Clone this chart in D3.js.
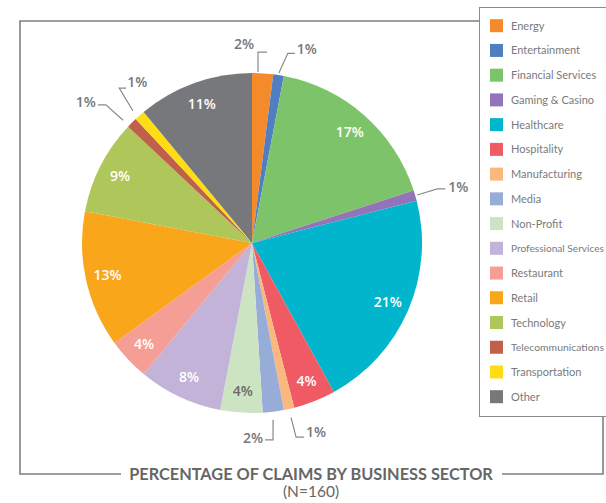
<!DOCTYPE html>
<html>
<head>
<meta charset="utf-8">
<script src="https://cdn.jsdelivr.net/npm/d3@7"></script>
<style>
  body { margin: 0; background: #fff; }
  svg { display: block; }
</style>
</head>
<body>
<div id="chart"></div>
<script>
// sectors, clockwise from 12 o'clock
var sectors = ["Energy", "Entertainment", "Financial Services", "Gaming & Casino", "Healthcare",
    "Hospitality", "Manufacturing", "Media", "Non-Profit", "Professional Services", "Restaurant",
    "Retail", "Technology", "Telecommunications", "Transportation", "Other"];
var shares = [2, 1, 17, 1, 21, 4, 1, 2, 4, 8, 4, 13, 9, 1, 1, 11];
var colors = ["#f58a2b", "#4f7fc1", "#7dc36a", "#9474b8", "#00b5cc", "#ef5a65", "#fbb87e", "#97add8",
    "#cde4c3", "#c3b3d8", "#f59e96", "#faa61a", "#afc65a", "#c0604a", "#ffdd15", "#77787b"];
var title = "PERCENTAGE OF CLAIMS BY BUSINESS SECTOR";
var subtitle = "(N=160)";

// small slices get a leader line instead of an inside label
// angles are offsets (deg) from slice middle, radii in px
var outside = {
    "Energy":             { a0: -1.6, r0: 171, a1: -1.8, r1: 191, dx: 9,   tx: -4, ty: -3, anchor: "end" },
    "Entertainment":      { a0: 0,    r0: 172, a1: 1.7,  r1: 193, dx: 7,   tx: 2,  ty: 1,  anchor: "start" },
    "Gaming & Casino":    { a0: 0,    r0: 172, a1: -0.1, r1: 193, dx: 8,   tx: 3,  ty: 3,  anchor: "start" },
    "Manufacturing":      { a0: 0,    r0: 179, a1: -0.2, r1: 199, dx: 8,   tx: 2,  ty: 0,  anchor: "start" },
    "Media":              { a0: 0.4,  r0: 178, a1: 1.1,  r1: 198, dx: -8,  tx: -2, ty: 3,  anchor: "end" },
    "Telecommunications": { a0: -1.4, r0: 178, a1: -1.6, r1: 201, dx: -8,  tx: -2, ty: 2,  anchor: "end" },
    "Transportation":     { a0: -0.6, r0: 178, a1: 0.8,  r1: 204, dx: 7,   tx: 1,  ty: -1, anchor: "start" }
};
var darkText = ["Non-Profit"];

var width = 606, height = 503;
var cx = 252, cy = 243, radius = 170;

var svg = d3.select("#chart").append("svg")
    .attr("width", width)
    .attr("height", height);

// frame
var frame = svg.append("g")
    .attr("fill", "none")
    .attr("stroke", "#7f7f7f")
    .attr("stroke-width", 1.6);

frame.append("polyline")
    .attr("points", [[479, 21], [20, 21], [20, 474], [121, 474]].join(" "));
frame.append("polyline")
    .attr("points", [[502, 474], [603, 474], [603, 417]].join(" "));

var pie = d3.pie().sort(null).value(d => d);
var arcs = pie(shares);

var arc = d3.arc().innerRadius(0).outerRadius(radius);
var labelArc = d3.arc().innerRadius(148).outerRadius(148);

var g = svg.append("g").attr("transform", "translate(" + cx + "," + cy + ")");

g.selectAll("path.slice")
    .data(arcs)
    .enter()
    .append("path")
    .attr("class", "slice")
    .attr("d", arc)
    .attr("fill", (d, i) => colors[i]);

// inside labels
g.selectAll("text.inner")
    .data(arcs.filter((d, i) => !outside[sectors[i]]))
    .enter()
    .append("text")
    .attr("class", "inner")
    .attr("transform", d => "translate(" + labelArc.centroid(d) + ")")
    .attr("text-anchor", "middle")
    .attr("dy", "0.35em")
    .attr("font-family", "'Open Sans', sans-serif")
    .attr("font-weight", 600)
    .attr("font-size", 14)
    .attr("fill", d => darkText.indexOf(sectors[d.index]) >= 0 ? "#6a6a6a" : "#fff")
    .text(d => d.data + "%");

// leader lines for small slices
function polar(angDeg, r) {
    var a = angDeg * Math.PI / 180;
    return [r * Math.sin(a), -r * Math.cos(a)];
}

var outs = arcs.filter((d, i) => outside[sectors[i]]);

outs.forEach(d => {
    var cfg = outside[sectors[d.index]];
    var mid = (d.startAngle + d.endAngle) / 2 * 180 / Math.PI;
    var p0 = polar(mid + cfg.a0, cfg.r0);
    var p1 = polar(mid + cfg.a1, cfg.r1);
    var p2 = [p1[0] + cfg.dx, p1[1]];

    g.append("polyline")
        .attr("points", [p0, p1, p2].join(" "))
        .attr("fill", "none")
        .attr("stroke", "#8a8a8a")
        .attr("stroke-width", 1.2);

    var tx = (cfg.anchor == "end" ? Math.min(p1[0], p2[0]) : Math.max(p1[0], p2[0])) + cfg.tx;
    g.append("text")
        .attr("x", tx)
        .attr("y", p1[1] + cfg.ty)
        .attr("text-anchor", cfg.anchor)
        .attr("font-family", "'Open Sans', sans-serif")
        .attr("font-weight", 600)
        .attr("font-size", 14)
        .attr("fill", "#777")
        .text(d.data + "%");
});

// legend
var legend = svg.append("g");
legend.append("rect")
    .attr("x", 479.5)
    .attr("y", 7.5)
    .attr("width", 160)
    .attr("height", 409)
    .attr("fill", "#fff")
    .attr("stroke", "#8a8a8a")
    .attr("stroke-width", 1);

var rowY = d3.scalePoint().domain(sectors).range([25.7, 396.7]);

var items = legend.selectAll("g.item")
    .data(sectors)
    .enter()
    .append("g")
    .attr("class", "item")
    .attr("transform", d => "translate(490," + rowY(d) + ")");

items.append("rect")
    .attr("x", 0)
    .attr("y", -6.5)
    .attr("width", 13)
    .attr("height", 13)
    .attr("fill", (d, i) => colors[i]);

// shrink long names so they stay inside the page
items.append("text")
    .attr("x", 21)
    .attr("y", 4)
    .attr("font-family", "Lato, sans-serif")
    .attr("font-size", 11)
    .attr("fill", "#7a7a7a")
    .text(d => d)
    .each(function () {
        var len = this.getComputedTextLength();
        var room = width - 490 - 21 - 2;
        if (len > room) d3.select(this).attr("font-size", 11 * room / len);
    });

// title
var t = svg.append("text")
    .attr("x", 311)
    .attr("y", 480)
    .attr("text-anchor", "middle")
    .attr("font-family", "Lato, sans-serif")
    .attr("font-weight", 700)
    .attr("font-size", 16)
    .attr("fill", "#666")
    .text(title);
var w = t.node().getComputedTextLength();
t.attr("font-size", 16 * 364 / w);

svg.append("text")
    .attr("x", 311)
    .attr("y", 497)
    .attr("text-anchor", "middle")
    .attr("font-family", "Lato, sans-serif")
    .attr("font-size", 15.5)
    .attr("fill", "#666")
    .text(subtitle);
</script>
</body>
</html>
